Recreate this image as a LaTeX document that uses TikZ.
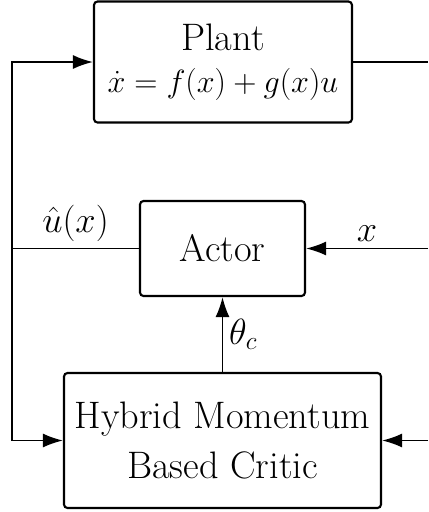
\RequirePackage{fix-cm}
\documentclass[tikz,border=0pt]{standalone}
\usepackage{amsmath,amssymb}
\usetikzlibrary{arrows.meta, positioning, calc}

\begin{document}
\begin{tikzpicture}[
    >={Latex[length=0.4cm, width=0.28cm]},
    % ── shared styles ──
    block/.style={draw, line width=1.2pt, rounded corners=2pt, align=center,
        font=\fontsize{21.8}{26}\selectfont, minimum width=#1},
    signal/.style={line width=1pt},
    sig label/.style={font=\huge},
]

% ══════════════════════════════════════════════════════════════════════
%  DIMENSIONS
% ══════════════════════════════════════════════════════════════════════
\def\leftX{0.24}  \def\rightX{8.56}
\def\Cx{4.45}
\def\plantY{-1.24} \def\actorY{-4.97} \def\criticY{-8.81}

\useasboundingbox (0,0) rectangle (8.56,-10.24);

% ══════════════════════════════════════════════════════════════════════
%  BLOCKS
% ══════════════════════════════════════════════════════════════════════
\node[block=5.16cm, minimum height=2.42cm] (plant) at (4.46,\plantY)
    {Plant\\[-2pt]{\fontsize{18.3}{22}\selectfont $\dot{x} = f(x) + g(x)u$}};
\node[block=3.3cm, minimum height=1.9cm] (actor) at (\Cx,\actorY) {Actor};
\node[block=6.34cm, minimum height=2.7cm] (critic) at (\Cx,\criticY)
    {Hybrid Momentum\\[3pt]Based Critic};

% ── free ends ──
\coordinate (uhat) at (\leftX,\actorY);
\coordinate (plantout) at (\rightX,\plantY);
\coordinate (xin) at (\rightX,\actorY);
\coordinate (xinc) at (\rightX,\criticY);

% ══════════════════════════════════════════════════════════════════════
%  SIGNALS
% ══════════════════════════════════════════════════════════════════════
\draw[signal] (actor.west) -- node[above, sig label] {$\hat{u}(x)$} (uhat);
\draw[signal, ->] (uhat) |- (plant.west);
\draw[signal, ->] (uhat) |- (critic.west);
\draw[signal] (plant.east) -- (plantout);
\draw[signal, ->] (xin) -- node[above, sig label] {$x$} (actor.east);
\draw[signal, ->] (xinc) -- (critic.east);
\draw[signal, ->] (critic.north) -- node[right, sig label] {$\theta_c$} (actor.south);

\end{tikzpicture}
\end{document}
